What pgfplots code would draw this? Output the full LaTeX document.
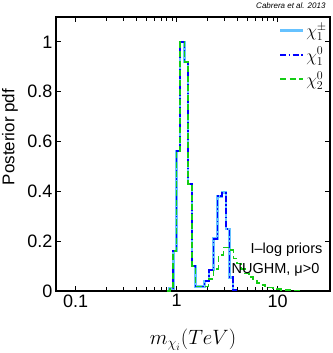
\documentclass[border=0pt]{standalone}
\usepackage{fontspec}
\setmainfont{Liberation Sans}
\usepackage{pgfplots}
\pgfplotsset{compat=1.18}
\definecolor{chipm}{RGB}{102,194,255}
\definecolor{chione}{RGB}{0,0,255}
\definecolor{chitwo}{RGB}{20,205,20}
\begin{document}
\begin{tikzpicture}
\path[use as bounding box] (-56pt,-62pt) rectangle (276pt,291pt);
\begin{axis}[
  at={(0pt,0pt)}, anchor=south west,
  scale only axis, width=274pt, height=274pt,
  xmode=log, xmin=0.064, xmax=33, ymin=0, ymax=1.1,
  xtick={0.1,1,10}, xticklabels={0.1,1,10},
  ytick={0,0.2,0.4,0.6,0.8,1}, yticklabels={0,0.2,0.4,0.6,0.8,1},
  tick align=inside, tick pos=both,
  major tick length=5pt, minor tick length=4pt,
  every tick/.style={black, line width=0.9pt},
  axis line style={line width=1.6pt},
  tick label style={font=\fontsize{18}{18}\selectfont},
  /pgf/number format/assume math mode=true,
  xlabel={$m_{\chi_i}(TeV)$},
  xlabel style={font=\fontsize{20}{20}\selectfont, at={(axis description cs:0.5,-0.179)}, anchor=center},
  ylabel={Posterior pdf},
  ylabel style={font=\fontsize{17}{17}\selectfont, at={(axis description cs:-0.168,0.562)}, anchor=center},
  legend style={at={(axis description cs:0.996,0.985)}, anchor=north east, draw=none, fill=none,
    font=\fontsize{17}{17}\selectfont, inner sep=0pt, row sep=5pt, cells={anchor=west}},
  legend image code/.code={\draw[#1] (0pt,0pt) -- (23pt,0pt);},
  const plot mark left,
]
\addplot[chipm, line width=2.4pt, no marks] coordinates {
(0.80,0) (0.854,0.01) (0.928,0.16) (1.0,0.563) (1.077,1.0) (1.198,0.92) (1.291,0.43)
(1.426,0.10) (1.536,0.018) (1.894,0.04) (2.106,0.084) (2.321,0.21) (2.541,0.38)
(2.806,0.395) (3.092,0.25) (3.332,0.055) (3.596,0.005) (3.873,0)};
\addlegendentry{$\chi_1^{\pm}$}
\addplot[chione, line width=1.7pt, no marks, dash pattern=on 6pt off 2.5pt on 1.5pt off 2.5pt] coordinates {
(0.80,0) (0.854,0.01) (0.928,0.16) (1.0,0.563) (1.077,1.0) (1.198,0.92) (1.291,0.43)
(1.426,0.10) (1.536,0.018) (1.894,0.04) (2.106,0.084) (2.321,0.21) (2.541,0.38)
(2.806,0.395) (3.092,0.25) (3.332,0.055) (3.596,0.005) (3.873,0)};
\addlegendentry{$\chi_1^{0}$}
\addplot[chitwo, line width=1.7pt, no marks, dash pattern=on 6pt off 3.5pt] coordinates {
(0.80,0) (0.854,0.01) (0.928,0.16) (1.0,0.563) (1.077,1.0) (1.198,0.92) (1.291,0.43)
(1.426,0.10) (1.536,0.018) (2.073,0.048) (2.321,0.087) (2.598,0.145) (2.909,0.175)
(3.257,0.165) (3.646,0.13) (3.990,0.11) (4.367,0.088) (4.779,0.07) (5.231,0.055)
(5.725,0.042) (6.266,0.032) (6.858,0.025) (7.506,0.019) (8.215,0.014) (8.99,0.01)
(9.84,0.007) (10.77,0.005) (11.79,0.004) (12.90,0.003) (14.12,0.002) (15.45,0.002) (16.91,0)};
\addlegendentry{$\chi_2^{0}$}
\node[anchor=east, font=\fontsize{14.5}{14.5}\selectfont] at (axis description cs:0.985,0.15) {I--log priors};
\node[anchor=east, font=\fontsize{14.5}{14.5}\selectfont] at (axis description cs:0.974,0.077) {NUGHM, μ>0};
\end{axis}
\node[anchor=base east, font=\itshape\fontsize{8}{8}\selectfont] at ([yshift=8pt,xshift=-1pt]current axis.north east) {Cabrera et al. 2013};
\end{tikzpicture}
\end{document}
